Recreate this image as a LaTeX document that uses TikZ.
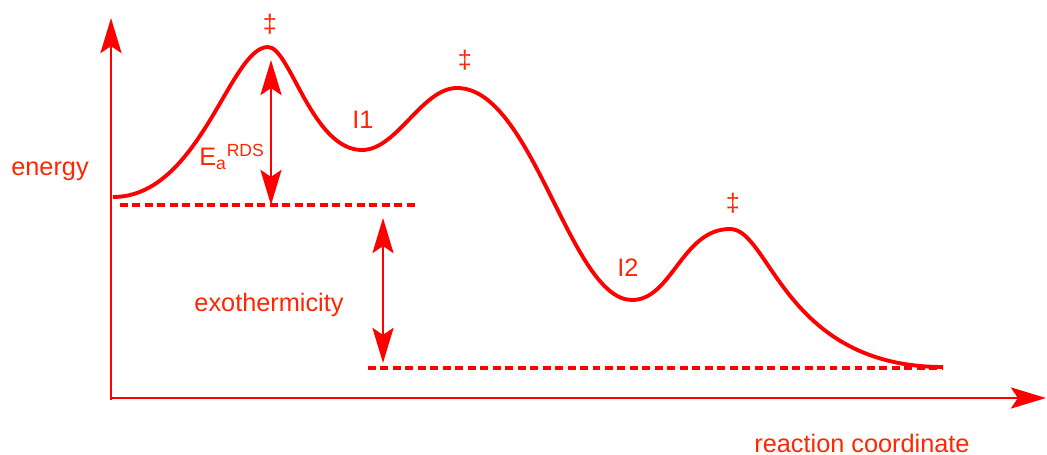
\documentclass[tikz,border=0pt]{standalone}
\usepackage{fontspec}
\setmainfont{Liberation Sans}
\usetikzlibrary{arrows.meta}
\definecolor{labelred}{RGB}{255,38,0}

\begin{document}
\begin{tikzpicture}[x=0.02cm,y=-0.02cm,line width=1.3pt,red,>={Stealth[length=20pt,width=12pt,inset=4pt]},
  lbl/.style={text=labelred,font=\Large},
  axis/.style={line width=1.7pt,->},
  level/.style={line width=2pt,dash pattern=on 4.5pt off 2.6pt}]
  \useasboundingbox (0,0) rectangle (1047,455);
  % axes
  \coordinate (origin) at (111,400);
  \coordinate (ytip) at (111,18);
  \coordinate (xtip) at (1046,398);
  \draw[axis] (origin) -- (ytip);
  \draw[axis] (110,398) -- (xtip);
  % energy profile: start, peaks and minima
  \draw[line width=2.2pt] (113,197)
    .. controls (200,197) and (230,47) .. (268,47)
    .. controls (290,47) and (312,150) .. (362,150)
    .. controls (397,150) and (422,88) .. (457,88)
    .. controls (533,88) and (570,300) .. (632,300)
    .. controls (672,300) and (682,229) .. (730,229)
    .. controls (770,229) and (784,367) .. (943,367);
  % reference levels
  \draw[level] (120,205) -- (415,205);
  \draw[level] (368,368) -- (943,368);
  % double arrows
  \coordinate (eatop) at (271,60);
  \coordinate (eabot) at (271,205);
  \coordinate (exotop) at (383,218);
  \coordinate (exobot) at (383,363);
  \draw[<->] (eatop) -- (eabot);
  \draw[<->] (exotop) -- (exobot);
  % labels
  \node[lbl] (energy) at (50,171) {energy};
  \node[lbl] (exo) at (269,305) {exothermicity};
  \node[lbl] (rc) at (862,443) {reaction coordinate};
  \node[lbl] (int1) at (363,120) {I1};
  \node[lbl] (int2) at (628,268) {I2};
  \node[lbl] (ea) at (232,157) {E\textsubscript{a}\textsuperscript{RDS}};
  \node[lbl] (ts1) at (270,24) {‡};
  \node[lbl] (ts2) at (465,60) {‡};
  \node[lbl] (ts3) at (733,203) {‡};
\end{tikzpicture}
\end{document}
